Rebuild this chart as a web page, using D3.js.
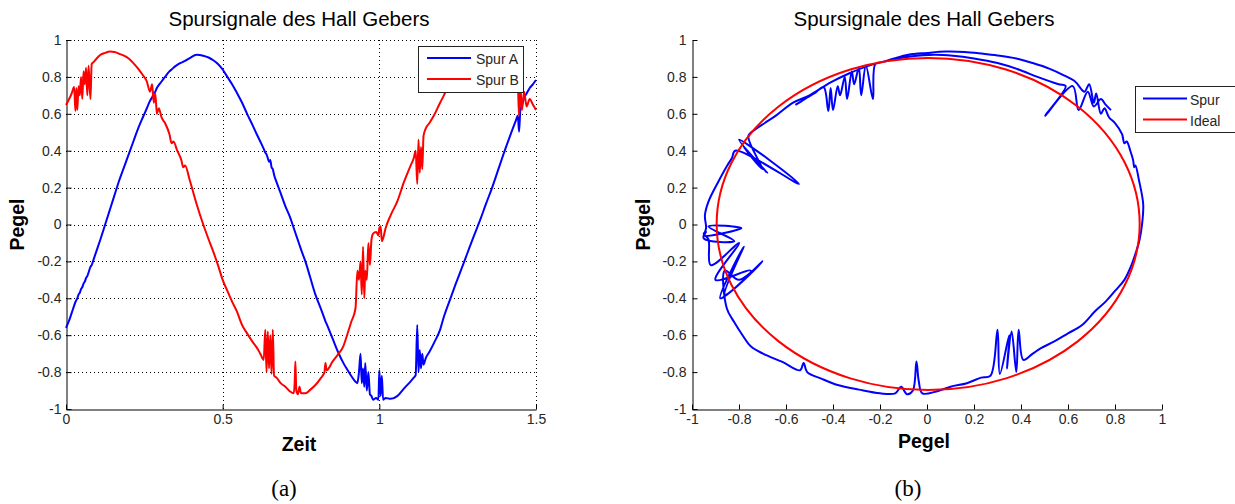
<!DOCTYPE html>
<html><head><meta charset="utf-8">
<script src="https://cdn.jsdelivr.net/npm/d3@7"></script>
<style>body{margin:0;background:#fff;overflow:hidden} svg{display:block}</style>
</head><body>
<svg id="c" width="1235" height="504"></svg>
<script>
// ---------------- data ----------------
const chartTitle = "Spursignale des Hall Gebers";
const leftXLabel = "Zeit";
const axisLabel = "Pegel";
const captions = ["(a)", "(b)"];
const legendLeft = ["Spur A", "Spur B"];
const legendRight = ["Spur", "Ideal"];

const time = [0.000,0.010,0.018,0.026,0.030,0.033,0.036,0.040,0.044,0.048,0.052,0.056,0.060,0.064,0.068,0.072,0.078,0.082,0.088,0.098,
0.110,0.125,0.140,0.155,0.170,0.185,0.200,0.215,0.230,0.245,0.258,0.268,0.275,0.280,0.285,0.290,0.296,0.305,0.316,0.330,
0.337,0.343,0.355,0.368,0.374,0.380,0.395,0.417,0.438,0.455,0.470,0.485,0.500,0.515,0.530,0.545,0.562,0.578,0.595,0.610,
0.620,0.631,0.636,0.640,0.644,0.648,0.652,0.656,0.660,0.664,0.672,0.685,0.700,0.715,0.727,0.730,0.732,0.735,0.740,0.745,
0.750,0.764,0.780,0.796,0.812,0.825,0.828,0.832,0.850,0.870,0.885,0.897,0.910,0.924,0.930,0.935,0.940,0.944,0.948,0.952,
0.955,0.960,0.965,0.970,0.975,0.980,0.990,0.997,1.000,1.004,1.008,1.012,1.020,1.036,1.057,1.079,1.100,1.110,1.116,1.121,
1.125,1.129,1.133,1.137,1.141,1.148,1.160,1.175,1.194,1.206,1.225,1.242,1.260,1.280,1.300,1.323,1.340,1.360,1.380,1.398,
1.415,1.435,1.442,1.446,1.450,1.455,1.462,1.470,1.480,1.490,1.500];

const spurA = [-0.56,-0.52,-0.48,-0.44,-0.42,-0.41,-0.40,-0.38,-0.37,-0.35,-0.34,-0.32,-0.31,-0.29,-0.28,-0.26,-0.23,-0.22,-0.19,-0.14,
-0.08,0.00,0.08,0.16,0.24,0.31,0.38,0.45,0.52,0.58,0.63,0.67,0.69,0.71,0.72,0.74,0.755,0.775,0.80,0.83,
0.84,0.85,0.865,0.877,0.882,0.887,0.902,0.92,0.915,0.905,0.89,0.87,0.84,0.80,0.76,0.715,0.66,0.60,0.54,0.485,
0.45,0.41,0.39,0.38,0.36,0.34,0.35,0.31,0.30,0.27,0.23,0.17,0.10,0.04,-0.02,-0.035,-0.045,-0.06,-0.085,-0.11,
-0.135,-0.20,-0.29,-0.38,-0.45,-0.51,-0.525,-0.54,-0.615,-0.698,-0.75,-0.785,-0.82,-0.852,-0.86,-0.80,-0.70,-0.86,-0.78,-0.88,
-0.75,-0.90,-0.80,-0.92,-0.93,-0.95,-0.94,-0.95,-0.79,-0.93,-0.82,-0.95,-0.94,-0.945,-0.93,-0.888,-0.85,-0.83,-0.816,-0.545,
-0.80,-0.68,-0.78,-0.70,-0.76,-0.725,-0.69,-0.64,-0.57,-0.50,-0.41,-0.33,-0.25,-0.16,-0.07,0.03,0.11,0.20,0.30,0.39,
0.47,0.56,0.59,0.503,0.62,0.645,0.684,0.71,0.74,0.76,0.783];

const spurB = [0.648,0.68,0.71,0.745,0.615,0.74,0.62,0.75,0.70,0.80,0.68,0.83,0.76,0.85,0.70,0.86,0.68,0.87,0.88,0.90,
0.92,0.93,0.937,0.935,0.925,0.915,0.90,0.875,0.845,0.81,0.775,0.72,0.76,0.66,0.71,0.60,0.63,0.58,0.55,0.49,
0.44,0.45,0.40,0.35,0.31,0.32,0.24,0.11,0.00,-0.08,-0.147,-0.22,-0.30,-0.36,-0.418,-0.47,-0.545,-0.59,-0.635,-0.67,
-0.70,-0.734,-0.57,-0.80,-0.58,-0.78,-0.60,-0.81,-0.57,-0.82,-0.83,-0.86,-0.879,-0.905,-0.915,-0.85,-0.743,-0.90,-0.92,-0.88,
-0.915,-0.915,-0.895,-0.87,-0.835,-0.80,-0.75,-0.79,-0.745,-0.70,-0.66,-0.60,-0.53,-0.454,-0.25,-0.30,-0.20,-0.38,-0.12,-0.40,
-0.25,-0.30,-0.10,-0.22,-0.08,-0.05,-0.04,-0.06,-0.02,-0.01,-0.09,-0.075,-0.02,0.05,0.124,0.232,0.32,0.36,0.40,0.22,
0.46,0.28,0.42,0.30,0.48,0.52,0.55,0.593,0.66,0.70,0.77,0.82,0.86,0.89,0.91,0.92,0.915,0.90,0.875,0.84,
0.80,0.76,0.75,0.59,0.75,0.62,0.72,0.64,0.68,0.65,0.62];

const idealCenter = [0.005, 0.003];
const idealRadius = 0.9;

const leftXTicks = [0, 0.5, 1, 1.5];
const leftXTickLabels = ["0", "0.5", "1", "1.5"];
const yTicks = [1, 0.8, 0.6, 0.4, 0.2, 0, -0.2, -0.4, -0.6, -0.8, -1];
const yTickLabels = ["1", "0.8", "0.6", "0.4", "0.2", "0", "-0.2", "-0.4", "-0.6", "-0.8", "-1"];
const rightXTicks = [-1, -0.8, -0.6, -0.4, -0.2, 0, 0.2, 0.4, 0.6, 0.8, 1];
const rightXTickLabels = ["-1", "-0.8", "-0.6", "-0.4", "-0.2", "0", "0.2", "0.4", "0.6", "0.8", "1"];

// ---------------- layout ----------------
const SANS = "'Liberation Sans', Arial, Helvetica, sans-serif";
const SERIF = "'Liberation Serif', 'Times New Roman', serif";
const BLUE = "#0000ff", RED = "#ff0000";
const svg = d3.select("#c");
svg.append("rect").attr("width", 1235).attr("height", 504).attr("fill", "#fff");

const L = {x0: 66, x1: 536, y0: 40, y1: 409};
const R = {x0: 692, x1: 1162, y0: 40, y1: 409};

const xL = d3.scaleLinear().domain([0, 1.5]).range([L.x0, L.x1]);
const yL = d3.scaleLinear().domain([-1, 1]).range([L.y1, L.y0]);
const xR = d3.scaleLinear().domain([-1, 1]).range([R.x0, R.x1]);
const yR = d3.scaleLinear().domain([-1, 1]).range([R.y1, R.y0]);

function styleAxis(g) {
  g.attr("font-family", SANS).attr("font-size", 14);
  g.selectAll(".domain").attr("stroke", "#000").attr("stroke-width", 1);
  g.selectAll(".tick line").attr("stroke", "#000").attr("stroke-width", 1);
  g.selectAll(".tick text").attr("fill", "#262626");
}

// ---------- left panel ----------
const gridL = svg.append("g").attr("stroke", "#000").attr("stroke-width", 1)
  .attr("stroke-dasharray", "1,3").attr("shape-rendering", "crispEdges");
gridL.selectAll("line.h").data(yTicks.filter(v => v > -1)).join("line")
  .attr("x1", L.x0).attr("x2", L.x1).attr("y1", d => Math.round(yL(d)) + 0.5).attr("y2", d => Math.round(yL(d)) + 0.5);
gridL.selectAll("line.v").data(leftXTicks.filter(v => v > 0)).join("line")
  .attr("y1", L.y0).attr("y2", L.y1).attr("x1", d => Math.round(xL(d)) + 0.5).attr("x2", d => Math.round(xL(d)) + 0.5);

const axLb = svg.append("g").attr("transform", `translate(0,${L.y1 + 0.5})`)
  .call(d3.axisBottom(xL).tickValues(leftXTicks).tickFormat((d, i) => leftXTickLabels[i])
    .tickSizeInner(-5).tickSizeOuter(0).tickPadding(5));
styleAxis(axLb);
const axLl = svg.append("g").attr("transform", `translate(${L.x0 + 0.5},0)`)
  .call(d3.axisLeft(yL).tickValues(yTicks).tickFormat((d, i) => yTickLabels[i])
    .tickSizeInner(-5).tickSizeOuter(0).tickPadding(5));
styleAxis(axLl);

const lineL = (vals) => d3.line().curve(d3.curveMonotoneX).x((d, i) => xL(time[i])).y(d => yL(d))(vals);
svg.append("path").attr("d", lineL(spurA)).attr("fill", "none").attr("stroke", BLUE)
  .attr("stroke-width", 2).attr("stroke-linejoin", "round");
svg.append("path").attr("d", lineL(spurB)).attr("fill", "none").attr("stroke", RED)
  .attr("stroke-width", 2).attr("stroke-linejoin", "round");

// legend left
const lgL = svg.append("g");
lgL.append("rect").attr("x", 418.5).attr("y", 46.5).attr("width", 105).attr("height", 46)
  .attr("fill", "#fff").attr("stroke", "#222").attr("stroke-width", 1);
[BLUE, RED].forEach((c, i) => {
  lgL.append("line").attr("x1", 427).attr("x2", 471).attr("y1", 58 + i * 21).attr("y2", 58 + i * 21)
    .attr("stroke", c).attr("stroke-width", 2);
  lgL.append("text").attr("x", 476).attr("y", 64 + i * 21).attr("font-family", SANS).attr("font-size", 14)
    .attr("fill", "#262626").text(legendLeft[i]);
});

// titles and labels left
svg.append("text").attr("x", (L.x0 + L.x1) / 2 - 2).attr("y", 26).attr("text-anchor", "middle")
  .attr("font-family", SANS).attr("font-size", 20.5).attr("fill", "#000").text(chartTitle);
svg.append("text").attr("x", (L.x0 + L.x1) / 2 - 2).attr("y", 451).attr("text-anchor", "middle")
  .attr("font-family", SANS).attr("font-weight", "bold").attr("font-size", 19.5).attr("fill", "#000").text(leftXLabel);
svg.append("text").attr("transform", `translate(24,${(L.y0 + L.y1) / 2}) rotate(-90)`).attr("text-anchor", "middle")
  .attr("font-family", SANS).attr("font-weight", "bold").attr("font-size", 19.5).attr("fill", "#000").text(axisLabel);
svg.append("text").attr("x", 284).attr("y", 496).attr("text-anchor", "middle")
  .attr("font-family", SERIF).attr("font-size", 23).attr("fill", "#000").text(captions[0]);

// ---------- right panel ----------
const axRb = svg.append("g").attr("transform", `translate(0,${R.y1 + 0.5})`)
  .call(d3.axisBottom(xR).tickValues(rightXTicks).tickFormat((d, i) => rightXTickLabels[i])
    .tickSizeInner(-5).tickSizeOuter(0).tickPadding(5));
styleAxis(axRb);
const axRl = svg.append("g").attr("transform", `translate(${R.x0 + 0.5},0)`)
  .call(d3.axisLeft(yR).tickValues(yTicks).tickFormat((d, i) => yTickLabels[i])
    .tickSizeInner(-5).tickSizeOuter(0).tickPadding(6));
styleAxis(axRl);

const lineR = d3.line().curve(d3.curveCatmullRom.alpha(0.5))
  .x((d, i) => xR(spurA[i])).y((d, i) => yR(spurB[i]));
svg.append("path").attr("d", lineR(time)).attr("fill", "none").attr("stroke", BLUE)
  .attr("stroke-width", 2).attr("stroke-linejoin", "round");
svg.append("ellipse")
  .attr("cx", xR(idealCenter[0])).attr("cy", yR(idealCenter[1]))
  .attr("rx", xR(idealRadius) - xR(0)).attr("ry", yR(0) - yR(idealRadius))
  .attr("fill", "none").attr("stroke", RED).attr("stroke-width", 2);

// legend right (cut at figure edge)
const lgR = svg.append("g");
lgR.append("rect").attr("x", 1135.5).attr("y", 86.5).attr("width", 140).attr("height", 46)
  .attr("fill", "#fff").attr("stroke", "#222").attr("stroke-width", 1);
[BLUE, RED].forEach((c, i) => {
  lgR.append("line").attr("x1", 1143).attr("x2", 1187).attr("y1", 98.5 + i * 21).attr("y2", 98.5 + i * 21)
    .attr("stroke", c).attr("stroke-width", 2);
  lgR.append("text").attr("x", 1190).attr("y", 104.5 + i * 21).attr("font-family", SANS).attr("font-size", 14)
    .attr("fill", "#262626").text(legendRight[i]);
});

svg.append("text").attr("x", (R.x0 + R.x1) / 2 - 3).attr("y", 26).attr("text-anchor", "middle")
  .attr("font-family", SANS).attr("font-size", 20.5).attr("fill", "#000").text(chartTitle);
svg.append("text").attr("x", (R.x0 + R.x1) / 2 - 3).attr("y", 448).attr("text-anchor", "middle")
  .attr("font-family", SANS).attr("font-weight", "bold").attr("font-size", 19.5).attr("fill", "#000").text(axisLabel);
svg.append("text").attr("transform", `translate(650,${(R.y0 + R.y1) / 2}) rotate(-90)`).attr("text-anchor", "middle")
  .attr("font-family", SANS).attr("font-weight", "bold").attr("font-size", 19.5).attr("fill", "#000").text(axisLabel);
svg.append("text").attr("x", 908).attr("y", 496).attr("text-anchor", "middle")
  .attr("font-family", SERIF).attr("font-size", 23).attr("fill", "#000").text(captions[1]);
</script>
</body></html>
